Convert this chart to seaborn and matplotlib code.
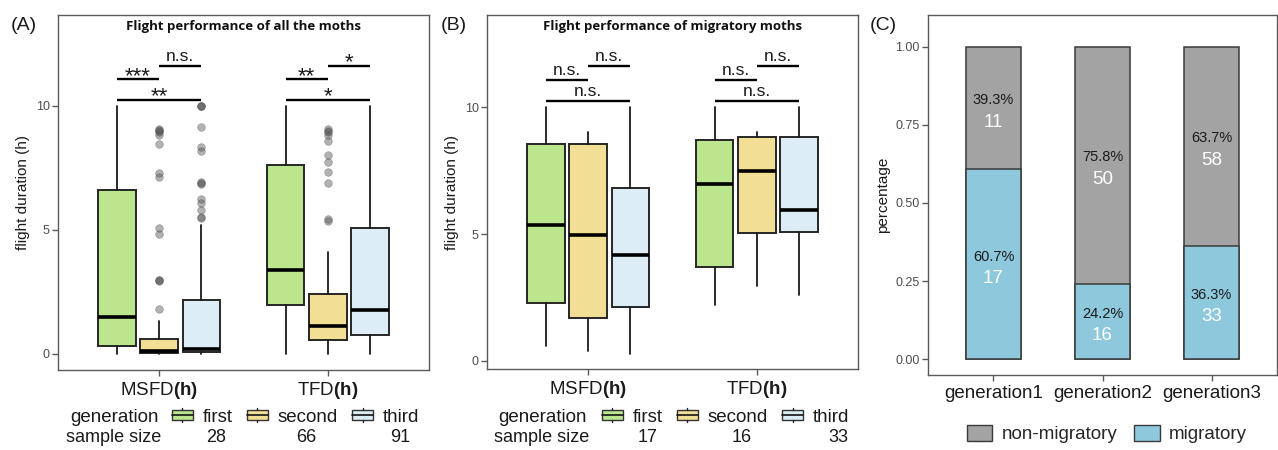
import numpy as np
import pandas as pd
import matplotlib
matplotlib.use("Agg")
import matplotlib.pyplot as plt
import seaborn as sns
from matplotlib.patches import Rectangle, Patch
from matplotlib.lines import Line2D
from matplotlib.legend_handler import HandlerBase

# ---------------- data ----------------
variables = ["MSFD", "TFD"]
generations = ["first", "second", "third"]
gen_colors = ["#BBE68E", "#F2DE94", "#DCEDF5"]

# Panel A (all moths): per variable, per generation: [whislo, q1, med, q3, whishi]
a_whislo = [[0.0, 0.0, 0.0], [0.0, 0.0, 0.0]]
a_q1 = [[0.31, 0.04, 0.07], [1.99, 0.55, 0.78]]
a_med = [[1.48, 0.13, 0.20], [3.37, 1.11, 1.79]]
a_q3 = [[6.63, 0.62, 2.19], [7.62, 2.43, 5.07]]
a_whishi = [[10.0, 1.32, 5.18], [10.0, 4.11, 10.0]]
a_fliers_msfd_second = [1.81, 2.95, 2.97, 3.0, 4.83, 5.07, 7.15, 7.29, 8.47, 8.83, 8.95, 9.0, 9.03, 9.06]
a_fliers_msfd_third = [10.0, 9.98, 10.0, 9.14, 8.36, 8.2, 6.95, 6.86, 6.88, 6.24, 6.08, 5.79, 5.5, 5.52]
a_fliers_tfd_second = [5.37, 5.44, 6.89, 7.32, 7.73, 8.03, 8.6, 8.83, 8.97, 9.0, 9.06]
a_sample = [28, 66, 91]
a_sig_labels = [["***", "n.s.", "**"], ["**", "*", "*"]]

# Panel B (migratory moths)
b_whislo = [[0.60, 0.39, 0.28], [2.21, 2.96, 2.60]]
b_q1 = [[2.30, 1.71, 2.14], [3.69, 5.06, 5.10]]
b_med = [[5.34, 4.95, 4.17], [6.98, 7.50, 5.94]]
b_q3 = [[8.55, 8.54, 6.83], [8.71, 8.84, 8.82]]
b_whishi = [[10.0, 9.01, 10.0], [10.0, 9.01, 10.0]]
b_sample = [17, 16, 33]
b_sig_labels = [["n.s.", "n.s.", "n.s."], ["n.s.", "n.s.", "n.s."]]

# bracket heights (first-second, second-third, first-third)
sig_heights = [11.07, 11.61, 10.24]

# Panel C
c_groups = ["generation1", "generation2", "generation3"]
c_migratory = [17, 16, 33]
c_nonmigratory = [11, 50, 58]
c_colors = {"non-migratory": "#A3A3A3", "migratory": "#8EC8DC"}

# ---------------- style ----------------
sns.set_theme(style="white")
plt.rcParams["font.family"] = ["Liberation Sans", "DejaVu Sans"]
plt.rcParams["mathtext.fontset"] = "custom"
plt.rcParams["mathtext.rm"] = "Liberation Sans"
plt.rcParams["mathtext.bf"] = "Liberation Sans:bold"

W, H = 1278, 450
fig = plt.figure(figsize=(W / 100, H / 100), dpi=100)

def px_axes(x0, y0, x1, y1):
    return fig.add_axes([x0 / W, 1 - y1 / H, (x1 - x0) / W, (y1 - y0) / H])

axA = px_axes(58, 15, 429, 370)
axB = px_axes(487, 15, 858, 369)
axC = px_axes(928, 15, 1277, 375)

def style_axis(ax):
    for s in ax.spines.values():
        s.set_color("#5a5a5a")
        s.set_linewidth(1.0)
    ax.tick_params(axis="both", which="both", direction="out", length=4, width=1,
                   color="#5a5a5a", bottom=True, left=True)
    ax.tick_params(axis="y", labelsize=9, labelcolor="#4d4d4d", pad=2)

offsets = [-0.25, 0.0, 0.25]

def draw_boxes(ax, whislo, q1, med, q3, whishi, fliers_map, sig_labels, title, ylim):
    for gi in range(3):
        stats = []
        pos = []
        for vi in range(2):
            stats.append(dict(whislo=whislo[vi][gi], q1=q1[vi][gi], med=med[vi][gi],
                              q3=q3[vi][gi], whishi=whishi[vi][gi],
                              fliers=fliers_map.get((vi, gi), [])))
            pos.append(vi + offsets[gi])
        ax.bxp(stats, positions=pos, widths=0.223, showcaps=False, patch_artist=True,
               boxprops=dict(facecolor=gen_colors[gi], edgecolor="#262626", linewidth=1.4),
               medianprops=dict(color="black", linewidth=2.6),
               whiskerprops=dict(color="#1a1a1a", linewidth=1.3),
               flierprops=dict(marker="o", markersize=5.5, markerfacecolor="#555555",
                               markeredgecolor="#555555", markeredgewidth=0.5, alpha=0.45),
               manage_ticks=False)
    ax.set_xlim(-0.6, 1.6)
    ax.set_ylim(*ylim)
    ax.set_yticks([0, 5, 10])
    ax.set_xticks([0, 1])
    ax.set_xticklabels([v + "$\\mathbf{(h)}$" for v in variables], fontsize=13.5, color="#1a1a1a")
    ax.tick_params(axis="x", pad=3)
    ax.set_ylabel("flight duration (h)", fontsize=11, color="#1a1a1a", labelpad=4)
    ax.set_xlabel("")
    pairs = [(0, 1), (1, 2), (0, 2)]
    for vi in range(2):
        for k, (g1, g2) in enumerate(pairs):
            x1 = vi + offsets[g1]
            x2 = vi + offsets[g2]
            y = sig_heights[k]
            ax.plot([x1, x2], [y, y], color="black", linewidth=1.7, solid_capstyle="butt")
            lab = sig_labels[vi][k]
            if lab == "n.s.":
                ax.text((x1 + x2) / 2, y + 0.08, lab, ha="center", va="bottom",
                        fontsize=12.5, color="#1a1a1a")
            else:
                ax.text((x1 + x2) / 2, y - 0.3, lab, ha="center", va="bottom",
                        fontsize=16, color="#1a1a1a")
    ax.text(0.5, 0.968, title, transform=ax.transAxes, ha="center", va="center",
            fontsize=9.5, fontweight="bold", family=["Open Sans", "DejaVu Sans"], color="#111111")
    style_axis(ax)

fliersA = {(0, 1): a_fliers_msfd_second, (0, 2): a_fliers_msfd_third, (1, 1): a_fliers_tfd_second}
draw_boxes(axA, a_whislo, a_q1, a_med, a_q3, a_whishi, fliersA, a_sig_labels,
           "Flight performance of all the moths", (-0.65, 13.67))
draw_boxes(axB, b_whislo, b_q1, b_med, b_q3, b_whishi, {}, b_sig_labels,
           "Flight performance of migratory moths", (-0.32, 13.64))

# ---------------- panel C ----------------
totals = [m + n for m, n in zip(c_migratory, c_nonmigratory)]
frac_mig = [m / t for m, t in zip(c_migratory, totals)]
frac_non = [n / t for n, t in zip(c_nonmigratory, totals)]
dfC = pd.DataFrame({"group": c_groups, "total": [1.0] * 3, "mig": frac_mig})
sns.barplot(data=dfC, x="group", y="total", ax=axC, color=c_colors["non-migratory"],
            width=0.507, edgecolor="#3a3a3a", linewidth=1.1, saturation=1)
sns.barplot(data=dfC, x="group", y="mig", ax=axC, color=c_colors["migratory"],
            width=0.507, edgecolor="#3a3a3a", linewidth=1.1, saturation=1)
for i in range(3):
    cm = frac_mig[i] / 2
    cn = frac_mig[i] + frac_non[i] / 2
    for c, f, n in [(cm, frac_mig[i], c_migratory[i]), (cn, frac_non[i], c_nonmigratory[i])]:
        axC.text(i, c + 0.025, f"{f * 100:.1f}%", ha="center", va="center",
                 fontsize=10.5, color="#1a1a1a")
        axC.text(i, c - 0.045, f"{n}", ha="center", va="center", fontsize=13.5,
                 color="white", fontweight="medium")
axC.set_xlim(-0.6, 2.6)
axC.set_ylim(-0.05, 1.101)
axC.set_yticks([0, 0.25, 0.5, 0.75, 1.0])
axC.set_yticklabels(["0.00", "0.25", "0.50", "0.75", "1.00"])
axC.set_xlabel("")
axC.set_ylabel("percentage", fontsize=11, color="#1a1a1a", labelpad=4)
axC.tick_params(axis="x", labelsize=13.5, labelcolor="#1a1a1a", pad=3)
style_axis(axC)

# ---------------- legends ----------------
class BoxHandler(HandlerBase):
    def create_artists(self, legend, orig_handle, xdescent, ydescent, width, height, fontsize, trans):
        fc = orig_handle.get_facecolor()
        r = Rectangle((-xdescent, -ydescent + height * 0.15), width, height * 0.7,
                      facecolor=fc, edgecolor="#333333", linewidth=1.0, transform=trans)
        m = Line2D([-xdescent, -xdescent + width], [-ydescent + height / 2] * 2,
                   color="#222222", linewidth=1.3, transform=trans)
        w1 = Line2D([-xdescent + width / 2] * 2, [-ydescent, -ydescent + height * 0.15],
                    color="#222222", linewidth=1.0, transform=trans)
        w2 = Line2D([-xdescent + width / 2] * 2, [-ydescent + height * 0.85, -ydescent + height],
                    color="#222222", linewidth=1.0, transform=trans)
        return [r, m, w1, w2]

ROW1, ROW2 = 417, 438

def gen_legend(x_title, x_leg, samples, x_samples):
    fig.text(x_title / W, 1 - ROW1 / H, "generation", ha="left", va="center",
             fontsize=13.5, color="#1a1a1a")
    handles = [Patch(facecolor=c) for c in gen_colors]
    leg = fig.legend(handles, generations, loc="center left",
                     bbox_to_anchor=(x_leg / W, 1 - ROW1 / H), ncol=3, frameon=False,
                     fontsize=13.5, handlelength=1.1, handleheight=0.7, handletextpad=0.55,
                     columnspacing=0.75, borderpad=0, borderaxespad=0,
                     handler_map={Patch: BoxHandler()})
    for t in leg.get_texts():
        t.set_color("#1a1a1a")
    fig.text((x_title - 4) / W, 1 - ROW2 / H, "sample size", ha="left", va="center",
             fontsize=13, color="#1a1a1a")
    for s, xs in zip(samples, x_samples):
        fig.text(xs / W, 1 - ROW2 / H, str(s), ha="center", va="center",
                 fontsize=13, color="#1a1a1a")

gen_legend(70, 172, a_sample, [216, 306, 400])
gen_legend(498, 602, b_sample, [648, 742, 838])

legC = fig.legend([Patch(facecolor=c_colors["non-migratory"], edgecolor="#3a3a3a"),
                   Patch(facecolor=c_colors["migratory"], edgecolor="#3a3a3a")],
                  ["non-migratory", "migratory"], loc="center",
                  bbox_to_anchor=(1107 / W, 1 - 434 / H), ncol=2, frameon=False,
                  fontsize=13.5, handlelength=1.35, handleheight=0.95, handletextpad=0.5,
                  columnspacing=0.9, borderpad=0, borderaxespad=0)

# panel labels
for x, lab in [(11, "(A)"), (441, "(B)"), (870, "(C)")]:
    fig.text(x / W, 1 - 25 / H, lab, ha="left", va="center", fontsize=14, color="#1a1a1a")

fig.savefig("out.png", dpi=100)
